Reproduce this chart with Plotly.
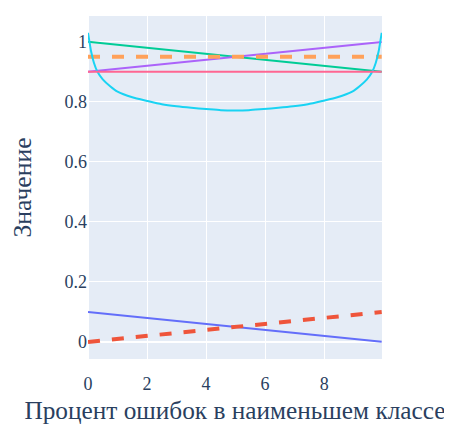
import plotly.graph_objects as go

# x values (percent of errors in the smallest class)
x_line = [0, 9.95]

blue_vals = [0.1, 0.0005]
red_vals = [0.0, 0.0995]
green_vals = [1.0, 0.9005]
purple_vals = [0.9, 0.9995]
orange_vals = [0.95, 0.95]
pink_vals = [0.9, 0.9]

cyan_x = [0, 0.05, 0.1, 0.2, 0.32, 0.5, 0.75, 1.0, 1.5, 2.0, 2.5, 3.0, 3.5, 4.0, 4.5, 4.975,
          5.45, 5.95, 6.45, 6.95, 7.45, 7.95, 8.45, 8.95, 9.2, 9.45, 9.63, 9.75, 9.85, 9.9, 9.95]
cyan_vals = [1.03, 1.0, 0.97, 0.93, 0.90, 0.875, 0.852, 0.834, 0.815, 0.803, 0.792, 0.785, 0.780, 0.776, 0.772, 0.771,
             0.772, 0.776, 0.780, 0.785, 0.792, 0.803, 0.815, 0.834, 0.852, 0.875, 0.90, 0.93, 0.97, 1.0, 1.03]

serif = "Liberation Serif"

fig = go.Figure()
fig.add_trace(go.Scatter(x=x_line, y=blue_vals, mode="lines", line=dict(color="#636efa", width=2)))
fig.add_trace(go.Scatter(x=x_line, y=red_vals, mode="lines", line=dict(color="#EF553B", width=4, dash="dash")))
fig.add_trace(go.Scatter(x=x_line, y=green_vals, mode="lines", line=dict(color="#00cc96", width=2)))
fig.add_trace(go.Scatter(x=x_line, y=purple_vals, mode="lines", line=dict(color="#ab63fa", width=2)))
fig.add_trace(go.Scatter(x=x_line, y=orange_vals, mode="lines", line=dict(color="#FFA15A", width=4, dash="dash")))
fig.add_trace(go.Scatter(x=cyan_x, y=cyan_vals, mode="lines", line=dict(color="#19d3f3", width=2, shape="spline", smoothing=0.6)))
fig.add_trace(go.Scatter(x=x_line, y=pink_vals, mode="lines", line=dict(color="#FF6692", width=2)))

fig.update_layout(
    width=452, height=427,
    template="plotly",
    showlegend=False,
    margin=dict(l=80, r=78, t=8, b=76),
    font=dict(family=serif, size=18, color="#2a3f5f"),
    xaxis=dict(title=dict(text="Процент ошибок в наименьшем классе", font=dict(family=serif, size=25.3), standoff=8),
               range=[0, 9.96], tickvals=[0, 2, 4, 6, 8], automargin=False,
               ticks="outside", ticklen=8, tickcolor="rgba(0,0,0,0)",
               tickfont=dict(family=serif, size=18)),
    yaxis=dict(title=dict(text="Значение", font=dict(family=serif, size=25.7), standoff=40),
               range=[-0.057, 1.086], tickvals=[0, 0.2, 0.4, 0.6, 0.8, 1], automargin=False,
               tickfont=dict(family=serif, size=18)),
)

fig.write_html("out.html")
